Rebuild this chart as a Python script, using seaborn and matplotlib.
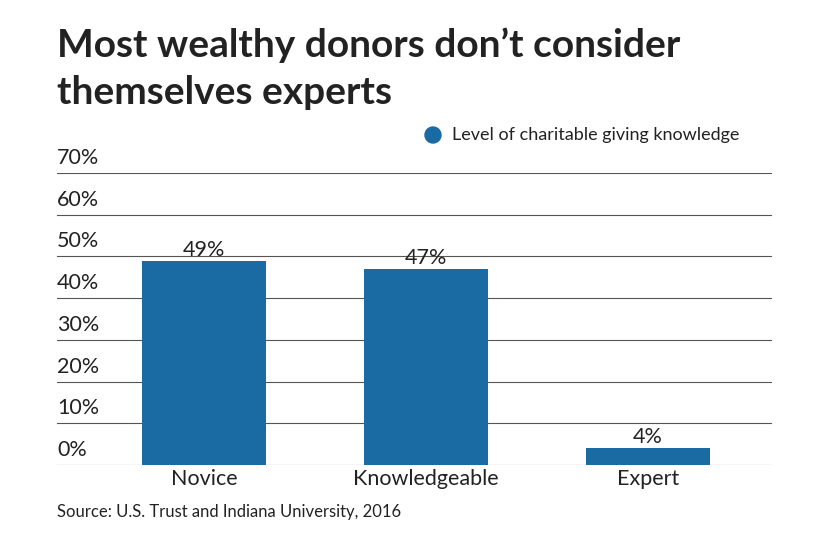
import matplotlib
matplotlib.use("Agg")
import matplotlib.pyplot as plt
from matplotlib.patches import Ellipse
import seaborn as sns
import pandas as pd

categories = ["Novice", "Knowledgeable", "Expert"]
shares = [49, 47, 4]
y_ticks = [0, 10, 20, 30, 40, 50, 60, 70]

BLUE = "#1a6aa3"
TXT = "#222222"
FONT = "Lato"

df = pd.DataFrame({"level": categories, "share": shares})

fig = plt.figure(figsize=(8.4, 5.47), dpi=100)
ax = fig.add_axes([57 / 840, 1 - 465 / 547, 715 / 840, 292 / 547])

sns.barplot(data=df, x="level", y="share", color=BLUE, width=0.56,
            saturation=1, ax=ax, zorder=3)
ax.set_xlim(-0.662, 2.559)
ax.set_ylim(0, 70)

for v in y_ticks:
    ax.axhline(v, color="#555555", lw=0.8, zorder=1)
    ax.text(0, v + 1.2, f"{v}%", transform=ax.get_yaxis_transform(),
            ha="left", va="bottom", fontsize=15.5, color=TXT, family=FONT)

for i, v in enumerate(shares):
    ax.text(i, v + 0.2, f"{v}%", ha="center", va="bottom",
            fontsize=15.5, color=TXT, family=FONT)

ax.set_yticks([])
ax.set_xticks(range(len(categories)))
ax.set_xticklabels(categories, fontsize=15.5, color=TXT, family=FONT)
ax.tick_params(axis="x", length=0, pad=3)
ax.set_xlabel("")
ax.set_ylabel("")
for s in ax.spines.values():
    s.set_visible(False)

fig.text(57 / 840, 1 - 45 / 547, "Most wealthy donors don\u2019t consider",
         fontsize=28, fontweight="bold", color=TXT, family=FONT, va="center")
fig.text(57 / 840, 1 - 92 / 547, "themselves experts",
         fontsize=28, fontweight="bold", color=TXT, family=FONT, va="center")

fig.add_artist(Ellipse((433 / 840, 1 - 135 / 547), 16 / 840, 16 / 547,
                       transform=fig.transFigure, color=BLUE))
fig.text(452 / 840, 1 - 135 / 547, "Level of charitable giving knowledge",
         fontsize=13, color=TXT, family=FONT, va="center")

fig.text(57 / 840, 1 - 512 / 547, "Source: U.S. Trust and Indiana University, 2016",
         fontsize=12, color=TXT, family=FONT, va="center")

fig.savefig("out.png", dpi=100)
